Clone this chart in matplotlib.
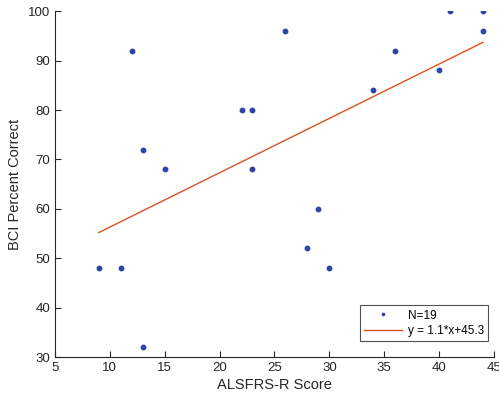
import matplotlib
matplotlib.use("Agg")
import matplotlib.pyplot as plt
import numpy as np

plt.rcParams['font.family'] = ['Liberation Sans', 'DejaVu Sans']

alsfrs = [9, 11, 12, 13, 13, 15, 22, 23, 23, 26, 28, 29, 30, 34, 36, 40, 41, 44, 44]
bci = [48, 48, 92, 72, 32, 68, 80, 80, 68, 96, 52, 60, 48, 84, 92, 88, 100, 100, 96]
slope = 1.1
intercept = 45.3
xticks = [5, 10, 15, 20, 25, 30, 35, 40, 45]
yticks = [30, 40, 50, 60, 70, 80, 90, 100]

fig = plt.figure(figsize=(4.99, 3.99), dpi=100)
ax = fig.add_axes([0.110, 0.105, 0.880, 0.867])

ax.plot(alsfrs, bci, linestyle='none', marker='o', markersize=3.2,
        color='#2f45a6', label='N=19')
xl = np.array([min(alsfrs), max(alsfrs)])
ax.plot(xl, slope * xl + intercept, color='#d95319', linewidth=1.0,
        label='y = 1.1*x+45.3')

ax.set_xlim(5, 45)
ax.set_ylim(30, 100)
ax.set_xticks(xticks)
ax.set_yticks(yticks)
for s in ['top', 'right']:
    ax.spines[s].set_visible(False)
for s in ['left', 'bottom']:
    ax.spines[s].set_linewidth(0.8)
    ax.spines[s].set_color('#262626')
ax.tick_params(direction='in', length=4, width=0.8, labelsize=9.5, colors='#262626')
ax.set_xlabel('ALSFRS-R Score', fontsize=10.5, color='#262626', labelpad=3)
ax.set_ylabel('BCI Percent Correct', fontsize=10.5, color='#262626', labelpad=4)

leg = ax.legend(loc='lower right', fontsize=8.5, frameon=True, fancybox=False,
                edgecolor='#262626', markerscale=0.5, handlelength=3.2,
                handletextpad=0.5, borderpad=0.35, labelspacing=0.3,
                borderaxespad=0, bbox_to_anchor=(0.986, 0.046))
leg.get_frame().set_linewidth(0.8)

fig.savefig('out.png', dpi=100)
